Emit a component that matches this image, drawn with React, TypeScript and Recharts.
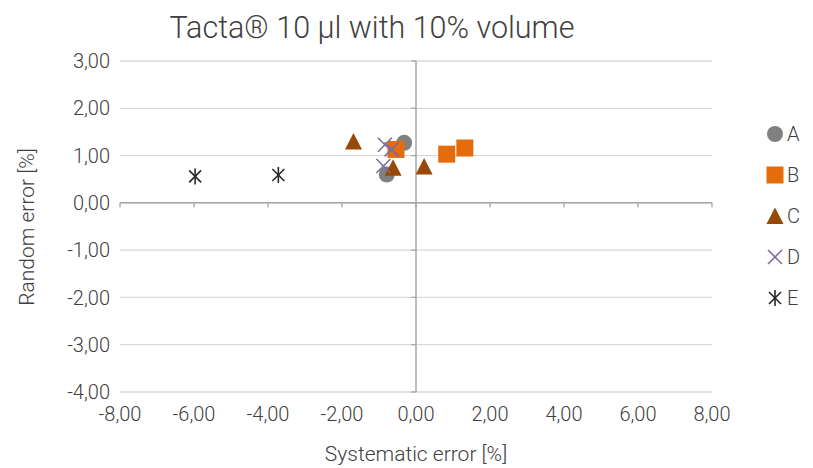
import {
  ReferenceLine,
  Scatter,
  ScatterChart,
  XAxis,
  YAxis,
  CartesianGrid,
} from "recharts";

const seriesNames = ["A", "B", "C", "D", "E"];
const seriesA = [
  { x: -0.32, y: 1.27 },
  { x: -0.79, y: 0.6 },
];
const seriesB = [
  { x: -0.54, y: 1.13 },
  { x: 0.83, y: 1.03 },
  { x: 1.32, y: 1.16 },
];
const seriesC = [
  { x: -1.69, y: 1.3 },
  { x: -0.62, y: 0.74 },
  { x: 0.22, y: 0.77 },
];
const seriesD = [
  { x: -0.84, y: 1.23 },
  { x: -0.66, y: 1.13 },
  { x: -0.88, y: 0.78 },
];
const seriesE = [
  { x: -5.97, y: 0.56 },
  { x: -3.72, y: 0.59 },
];
const xTicks = [-8, -6, -4, -2, 0, 2, 4, 6, 8];
const yTicks = [-4, -3, -2, -1, 0, 1, 2, 3];

const FONT = "Roboto, 'Noto Sans', sans-serif";
const TEXT = "#404040";
const colors = ["#808080", "#e46c0a", "#984807", "#7f6a9f", "#262626"];
const kinds = ["circle", "square", "triangle", "cross", "star"];

const fmt = (v: number) => v.toFixed(2).replace(".", ",");

// draws one marker centred at cx, cy
const Marker = ({ kind, cx, cy, color }: { kind: string; cx: number; cy: number; color: string }) => {
  if (kind === "circle") return <circle cx={cx} cy={cy} r={8} fill={color} />;
  if (kind === "square")
    return <rect x={cx - 8.5} y={cy - 8.5} width={17} height={17} fill={color} />;
  if (kind === "triangle")
    return (
      <polygon
        points={`${cx},${cy - 8.5} ${cx + 8.5},${cy + 8} ${cx - 8.5},${cy + 8}`}
        fill={color}
      />
    );
  if (kind === "cross")
    return (
      <g stroke={color} strokeWidth={1.6}>
        <line x1={cx - 7} y1={cy - 7} x2={cx + 7} y2={cy + 7} />
        <line x1={cx - 7} y1={cy + 7} x2={cx + 7} y2={cy - 7} />
      </g>
    );
  return (
    <g stroke={color} strokeWidth={1.6}>
      <line x1={cx - 6} y1={cy - 6} x2={cx + 6} y2={cy + 6} />
      <line x1={cx - 6} y1={cy + 6} x2={cx + 6} y2={cy - 6} />
      <line x1={cx} y1={cy - 8} x2={cx} y2={cy + 8} />
    </g>
  );
};

const shapeFor = (i: number) => (props: any) =>
  <Marker kind={kinds[i]} cx={props.cx} cy={props.cy} color={colors[i]} />;

const allSeries = [seriesA, seriesB, seriesC, seriesD, seriesE];

const App = () => {
  return (
    <div style={{ position: "absolute", left: 0, top: 0, width: 813, height: 468, fontFamily: FONT }}>
      <ScatterChart
        width={813}
        height={468}
        margin={{ top: 61, right: 101, left: 60, bottom: 46 }}
      >
        <CartesianGrid vertical={false} stroke="#d9d9d9" strokeWidth={1.3} />
        <XAxis
          type="number"
          dataKey="x"
          domain={[-8, 8]}
          ticks={xTicks}
          tickFormatter={fmt}
          axisLine={false}
          tickLine={false}
          height={30}
          tick={{ fill: TEXT, fontSize: 20, fontWeight: 300, fontFamily: FONT }}
          tickMargin={9}
        />
        <YAxis
          type="number"
          dataKey="y"
          domain={[-4, 3]}
          ticks={yTicks}
          tickFormatter={fmt}
          axisLine={false}
          tickLine={false}
          width={60}
          tick={{ fill: TEXT, fontSize: 20, fontWeight: 300, fontFamily: FONT }}
          tickMargin={4}
        />
        <ReferenceLine x={0} stroke="#a6a6a6" strokeWidth={1.5} />
        <ReferenceLine y={0} stroke="#a6a6a6" strokeWidth={1.5} />
        {xTicks.map((t) => (
          <ReferenceLine
            key={"xt" + t}
            segment={[
              { x: t, y: 0 },
              { x: t, y: -0.1 },
            ]}
            stroke="#a6a6a6"
            strokeWidth={1.3}
          />
        ))}
        {yTicks.map((t) => (
          <ReferenceLine
            key={"yt" + t}
            segment={[
              { x: -0.13, y: t },
              { x: 0, y: t },
            ]}
            stroke="#a6a6a6"
            strokeWidth={1.3}
          />
        ))}
        {allSeries.map((s, i) => (
          <Scatter
            key={seriesNames[i]}
            name={seriesNames[i]}
            data={s}
            shape={shapeFor(i)}
            isAnimationActive={false}
          />
        ))}
      </ScatterChart>
      <div
        style={{
          position: "absolute",
          left: 120,
          width: 504,
          top: 11,
          textAlign: "center",
          fontSize: 30.5,
          fontWeight: 300,
          lineHeight: "34px",
          color: TEXT,
        }}
      >
        Tacta® 10 µl with 10% volume
      </div>
      <div
        style={{
          position: "absolute",
          left: 120,
          width: 592,
          top: 441,
          textAlign: "center",
          fontSize: 21,
          fontWeight: 300,
          lineHeight: "26px",
          color: TEXT,
        }}
      >
        Systematic error [%]
      </div>
      <div
        style={{
          position: "absolute",
          left: 27,
          top: 227,
          transform: "translate(-50%, -50%) rotate(-90deg)",
          whiteSpace: "nowrap",
          fontSize: 21,
          fontWeight: 300,
          lineHeight: "26px",
          color: TEXT,
        }}
      >
        Random error [%]
      </div>
      <div style={{ position: "absolute", left: 764, top: 113 }}>
        {seriesNames.map((n, i) => (
          <div key={n} style={{ display: "flex", alignItems: "center", height: 41 }}>
            <svg width={22} height={24}>
              <Marker kind={kinds[i]} cx={11} cy={12} color={colors[i]} />
            </svg>
            <span style={{ fontSize: 20, fontWeight: 300, color: TEXT, marginLeft: 1 }}>{n}</span>
          </div>
        ))}
      </div>
    </div>
  );
};

export default App;
